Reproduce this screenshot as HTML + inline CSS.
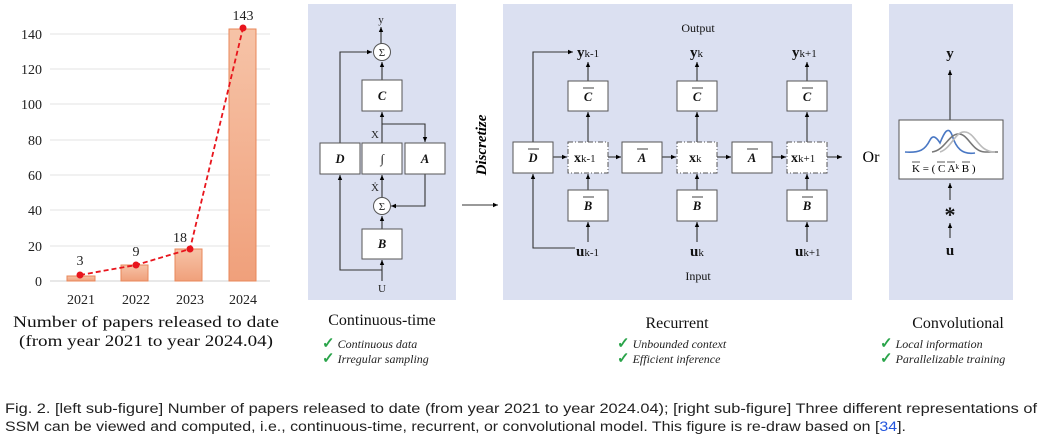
<!DOCTYPE html>
<html><head><meta charset="utf-8"><style>
body{margin:0;background:#fff;width:1043px;height:439px;overflow:hidden}
svg{display:block}
.s{font-family:"Liberation Serif",serif}
.i{font-family:"Liberation Serif",serif;font-style:italic}
.a{font-family:"Liberation Sans",sans-serif}
</style></head><body>
<svg width="1043" height="439" viewBox="0 0 1043 439">
<defs>
<marker id="ar" markerWidth="6" markerHeight="6" refX="5" refY="3" orient="auto" markerUnits="userSpaceOnUse"><path d="M0,0.8 L5,3 L0,5.2z" fill="#000"/></marker>
<linearGradient id="bg" x1="0" y1="0" x2="0" y2="1"><stop offset="0" stop-color="#f6c3a7"/><stop offset="1" stop-color="#f0a07b"/></linearGradient>
</defs>
<!-- chart -->
<g stroke="#e3e3e3" stroke-width="1">
<line x1="50" y1="34" x2="270" y2="34"/><line x1="50" y1="69" x2="270" y2="69"/><line x1="50" y1="104" x2="270" y2="104"/><line x1="50" y1="140" x2="270" y2="140"/><line x1="50" y1="175" x2="270" y2="175"/><line x1="50" y1="210" x2="270" y2="210"/><line x1="50" y1="246" x2="270" y2="246"/><line x1="50" y1="281" x2="270" y2="281" stroke="#d0d0d0"/>
</g>
<g class="s" font-size="14" fill="#222" text-anchor="end">
<text x="42" y="39">140</text><text x="42" y="74">120</text><text x="42" y="109">100</text><text x="42" y="145">80</text><text x="42" y="180">60</text><text x="42" y="215">40</text><text x="42" y="251">20</text><text x="42" y="286">0</text>
</g>
<g fill="url(#bg)" stroke="#e8875a" stroke-width="1">
<rect x="67" y="276" width="28" height="5"/><rect x="121" y="265" width="27" height="16"/><rect x="175" y="249" width="27" height="32"/><rect x="229" y="29" width="27" height="252"/>
</g>
<polyline points="80,275 136,265 190,249 243,28" fill="none" stroke="#e8141c" stroke-width="1.8" stroke-dasharray="5,3"/>
<g fill="#e8141c"><circle cx="80" cy="275" r="3.5"/><circle cx="136" cy="265" r="3.5"/><circle cx="190" cy="249" r="3.5"/><circle cx="243" cy="28" r="3.5"/></g>
<g class="s" font-size="14" fill="#222" text-anchor="middle">
<text x="80" y="265">3</text><text x="136" y="256">9</text><text x="180" y="242">18</text><text x="243" y="20">143</text>
<text x="81" y="304">2021</text><text x="136" y="304">2022</text><text x="190" y="304">2023</text><text x="243" y="304">2024</text>
</g>
<g class="s" font-size="16" fill="#111">
<text x="13" y="327" textLength="266" lengthAdjust="spacingAndGlyphs">Number of papers released to date</text>
<text x="19" y="346" textLength="254" lengthAdjust="spacingAndGlyphs">(from year 2021 to year 2024.04)</text>
</g>
<!-- panels -->
<rect x="308" y="4" width="148" height="296" fill="#dbe0f1"/>
<rect x="503" y="4" width="349" height="296" fill="#dbe0f1"/>
<rect x="889" y="4" width="124" height="296" fill="#dbe0f1"/>
<!-- continuous -->
<g stroke="#333" stroke-width="1.1" fill="none">
<line x1="381" y1="44" x2="381" y2="27" marker-end="url(#ar)"/>
<line x1="382" y1="80" x2="382" y2="62" marker-end="url(#ar)"/>
<line x1="382" y1="143" x2="382" y2="112" marker-end="url(#ar)"/>
<polyline points="382,124 425,124 425,142" marker-end="url(#ar)"/>
<polyline points="340,143 340,52 372,52" marker-end="url(#ar)"/>
<line x1="382" y1="197" x2="382" y2="175" marker-end="url(#ar)"/>
<polyline points="425,174 425,206 391,206" marker-end="url(#ar)"/>
<line x1="382" y1="229" x2="382" y2="216" marker-end="url(#ar)"/>
<line x1="382" y1="281" x2="382" y2="260" marker-end="url(#ar)"/>
<polyline points="382,270 340,270 340,175" marker-end="url(#ar)"/>
<line x1="462" y1="205" x2="498" y2="205" marker-end="url(#ar)"/>
</g>
<g fill="#fff" stroke="#555" stroke-width="1">
<circle cx="382" cy="52" r="8.5"/><circle cx="382" cy="206" r="8.5"/>
<rect x="362" y="80" width="40" height="31"/><rect x="320" y="143" width="40" height="31"/><rect x="362" y="143" width="40" height="31"/><rect x="405" y="143" width="40" height="31"/><rect x="362" y="229" width="40" height="30"/>
</g>
<g class="s" font-size="11" text-anchor="middle" fill="#222">
<text x="382" y="56">Σ</text><text x="382" y="210">Σ</text>
<text x="381" y="23">y</text><text x="375" y="138">X</text><text x="375" y="191">Ẋ</text><text x="382" y="292">U</text>
</g>
<g class="i" font-size="12.5" text-anchor="middle" fill="#111" font-weight="bold">
<text x="382" y="100">C</text><text x="340" y="163">D</text><text x="382" y="163">∫</text><text x="425" y="163">A</text><text x="382" y="248">B</text>
</g>
<text class="i" font-size="15" font-weight="bold" transform="translate(486,145) rotate(-90)" text-anchor="middle">Discretize</text>
<!-- recurrent -->
<g stroke="#333" stroke-width="1.1" fill="none">
<polyline points="533,142 533,52 573,52" marker-end="url(#ar)"/>
<polyline points="575,248 533,248 533,174" marker-end="url(#ar)"/>
<line x1="553" y1="157" x2="567" y2="157" marker-end="url(#ar)"/>
<line x1="608" y1="157" x2="621" y2="157" marker-end="url(#ar)"/>
<line x1="662" y1="157" x2="676" y2="157" marker-end="url(#ar)"/>
<line x1="717" y1="157" x2="731" y2="157" marker-end="url(#ar)"/>
<line x1="772" y1="157" x2="786" y2="157" marker-end="url(#ar)"/>
<line x1="827" y1="157" x2="842" y2="157" marker-end="url(#ar)"/>
<line x1="588" y1="81" x2="588" y2="62" marker-end="url(#ar)"/><line x1="697" y1="81" x2="697" y2="62" marker-end="url(#ar)"/><line x1="807" y1="81" x2="807" y2="62" marker-end="url(#ar)"/>
<line x1="588" y1="142" x2="588" y2="112" marker-end="url(#ar)"/><line x1="697" y1="142" x2="697" y2="112" marker-end="url(#ar)"/><line x1="807" y1="142" x2="807" y2="112" marker-end="url(#ar)"/>
<line x1="588" y1="190" x2="588" y2="174" marker-end="url(#ar)"/><line x1="697" y1="190" x2="697" y2="174" marker-end="url(#ar)"/><line x1="807" y1="190" x2="807" y2="174" marker-end="url(#ar)"/>
<line x1="588" y1="242" x2="588" y2="222" marker-end="url(#ar)"/><line x1="697" y1="242" x2="697" y2="222" marker-end="url(#ar)"/><line x1="807" y1="242" x2="807" y2="222" marker-end="url(#ar)"/>
</g>
<g fill="#fff" stroke="#555" stroke-width="1">
<rect x="513" y="142" width="40" height="31"/><rect x="622" y="142" width="40" height="31"/><rect x="732" y="142" width="40" height="31"/>
<rect x="568" y="81" width="40" height="30"/><rect x="677" y="81" width="40" height="30"/><rect x="787" y="81" width="40" height="30"/>
<rect x="568" y="190" width="40" height="31"/><rect x="677" y="190" width="40" height="31"/><rect x="787" y="190" width="40" height="31"/>
</g>
<g fill="#fff" stroke="#555" stroke-width="1" stroke-dasharray="5,2,1,2">
<rect x="568" y="142" width="40" height="31"/><rect x="677" y="142" width="40" height="31"/><rect x="787" y="142" width="40" height="31"/>
</g>
<g class="i" font-size="12.5" text-anchor="middle" fill="#111" font-weight="bold">
<text x="533" y="162">D</text><text x="642" y="162">A</text><text x="752" y="162">A</text>
<text x="588" y="101">C</text><text x="697" y="101">C</text><text x="807" y="101">C</text>
<text x="588" y="210">B</text><text x="697" y="210">B</text><text x="807" y="210">B</text>
</g>
<g stroke="#111" stroke-width="0.8">
<line x1="528" y1="149" x2="539" y2="149"/><line x1="637" y1="149" x2="648" y2="149"/><line x1="747" y1="149" x2="758" y2="149"/>
<line x1="583" y1="88" x2="594" y2="88"/><line x1="692" y1="88" x2="703" y2="88"/><line x1="802" y1="88" x2="813" y2="88"/>
<line x1="583" y1="197" x2="594" y2="197"/><line x1="692" y1="197" x2="703" y2="197"/><line x1="802" y1="197" x2="813" y2="197"/>
</g>
<g class="s" fill="#111">
<text x="574" y="162" font-size="14" font-weight="bold">x<tspan font-size="11" font-weight="normal">k-1</tspan></text>
<text x="689" y="162" font-size="14" font-weight="bold">x<tspan font-size="11" font-weight="normal">k</tspan></text>
<text x="791" y="162" font-size="14" font-weight="bold">x<tspan font-size="11" font-weight="normal">k+1</tspan></text>
<text x="577" y="57" font-size="15" font-weight="bold">y<tspan font-size="11" font-weight="normal">k-1</tspan></text>
<text x="690" y="57" font-size="15" font-weight="bold">y<tspan font-size="11" font-weight="normal">k</tspan></text>
<text x="792" y="57" font-size="15" font-weight="bold">y<tspan font-size="11" font-weight="normal">k+1</tspan></text>
<text x="576" y="256" font-size="15" font-weight="bold">u<tspan font-size="11" font-weight="normal">k-1</tspan></text>
<text x="690" y="256" font-size="15" font-weight="bold">u<tspan font-size="11" font-weight="normal">k</tspan></text>
<text x="795" y="256" font-size="15" font-weight="bold">u<tspan font-size="11" font-weight="normal">k+1</tspan></text>
<text x="698" y="32" font-size="12" text-anchor="middle">Output</text>
<text x="698" y="280" font-size="12" text-anchor="middle">Input</text>
</g>
<!-- conv -->
<text class="s" x="871" y="162" font-size="16" text-anchor="middle">Or</text>
<g stroke="#333" stroke-width="1.1" fill="none">
<line x1="950" y1="120" x2="950" y2="70" marker-end="url(#ar)"/>
<line x1="950" y1="200" x2="950" y2="183" marker-end="url(#ar)"/>
<line x1="950" y1="238" x2="950" y2="223" marker-end="url(#ar)"/>
</g>
<rect x="899" y="120" width="104" height="59" fill="#fff" stroke="#555"/>
<path d="M905,152 C920,153 925,150 930,140 C933,134 937,138 940,143 C944,133 948,125 952,135 C956,148 962,155 975,153" fill="none" stroke="#4a78c4" stroke-width="1.6"/>
<path d="M932,152 C945,150 948,135 958,134 C968,133 972,152 985,152 L998,152" fill="none" stroke="#777" stroke-width="1.6"/>
<path d="M940,152 C952,148 955,131 965,132 C976,133 978,152 995,152" fill="none" stroke="#bbb" stroke-width="1.6"/>
<text class="s" x="912" y="172" font-size="11">K = ( C A<tspan font-size="7" dy="-3">k</tspan><tspan dy="3"> B )</tspan></text>
<g stroke="#111" stroke-width="0.7"><line x1="912" y1="162" x2="920" y2="162"/><line x1="937" y1="162" x2="945" y2="162"/><line x1="947" y1="162" x2="955" y2="162"/><line x1="962" y1="162" x2="970" y2="162"/></g>
<g class="s" fill="#111" text-anchor="middle" font-weight="bold">
<text x="950" y="58" font-size="15">y</text><text x="950" y="222" font-size="22">*</text><text x="950" y="255" font-size="15">u</text>
</g>
<!-- captions -->
<g class="s" fill="#111" font-size="16" text-anchor="middle">
<text x="382" y="325">Continuous-time</text><text x="677" y="328">Recurrent</text><text x="958" y="328">Convolutional</text>
</g>
<g class="i" fill="#222" font-size="12">
<text x="322" y="348"><tspan fill="#2aa44a" font-style="normal" font-weight="bold" font-size="15">✓</tspan> Continuous data</text>
<text x="322" y="363"><tspan fill="#2aa44a" font-style="normal" font-weight="bold" font-size="15">✓</tspan> Irregular sampling</text>
<text x="617" y="348"><tspan fill="#2aa44a" font-style="normal" font-weight="bold" font-size="15">✓</tspan> Unbounded context</text>
<text x="617" y="363"><tspan fill="#2aa44a" font-style="normal" font-weight="bold" font-size="15">✓</tspan> Efficient inference</text>
<text x="880" y="348"><tspan fill="#2aa44a" font-style="normal" font-weight="bold" font-size="15">✓</tspan> Local information</text>
<text x="880" y="363"><tspan fill="#2aa44a" font-style="normal" font-weight="bold" font-size="15">✓</tspan> Parallelizable training</text>
</g>
<g class="a" fill="#222" font-size="13.5">
<text x="5" y="413" textLength="1032" lengthAdjust="spacingAndGlyphs">Fig. 2.  [left sub-figure] Number of papers released to date (from year 2021 to year 2024.04); [right sub-figure] Three different representations of</text>
<text x="5" y="431" textLength="901" lengthAdjust="spacingAndGlyphs">SSM can be viewed and computed, i.e., continuous-time, recurrent, or convolutional model. This figure is re-draw based on [<tspan fill="#2255dd">34</tspan>].</text>
</g>
</svg>
</body></html>
